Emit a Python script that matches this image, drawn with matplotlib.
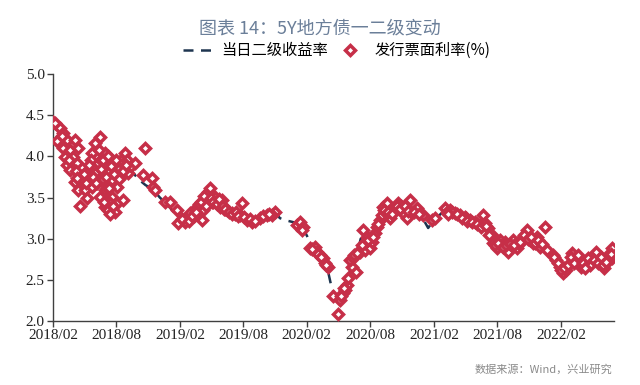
import matplotlib
matplotlib.use("Agg")
import matplotlib.pyplot as plt
import numpy as np
import pandas as pd

# Secondary-market yield (dashed line)
line_dates = [
    "2018-02-01", "2018-02-20", "2018-03-15", "2018-04-05", "2018-04-25", "2018-05-15",
    "2018-06-05", "2018-06-25", "2018-07-15", "2018-08-05", "2018-08-25", "2018-09-15",
    "2018-10-05", "2018-10-25", "2018-11-15", "2018-12-05", "2018-12-25", "2019-01-15",
    "2019-02-05", "2019-02-25", "2019-03-15", "2019-04-05", "2019-04-25", "2019-05-10",
    "2019-05-30", "2019-06-20", "2019-07-10", "2019-07-30", "2019-08-20", "2019-09-10",
    "2019-09-30", "2019-10-20", "2019-11-05", "2019-11-15", "2019-12-05", "2019-12-25",
    "2020-01-15", "2020-02-03", "2020-02-20", "2020-03-10", "2020-03-30", "2020-04-10",
    "2020-04-25", "2020-05-10", "2020-05-25", "2020-06-10", "2020-06-25", "2020-07-05",
    "2020-07-20", "2020-08-05", "2020-08-20", "2020-09-05", "2020-09-20", "2020-10-10",
    "2020-10-30", "2020-11-20", "2020-12-10", "2020-12-30", "2021-01-15", "2021-01-30",
    "2021-02-20", "2021-03-10", "2021-03-30", "2021-04-20", "2021-05-10", "2021-05-30",
    "2021-06-20", "2021-07-10", "2021-07-30", "2021-08-20", "2021-09-10", "2021-09-30",
    "2021-10-20", "2021-11-10", "2021-11-30", "2021-12-15", "2021-12-30", "2022-01-15",
    "2022-01-30", "2022-02-15", "2022-03-05", "2022-03-25", "2022-04-15", "2022-05-05",
    "2022-05-25", "2022-06-15", "2022-06-30",
]
line_values = [
    4.40, 4.28, 4.05, 3.75, 3.75, 3.85,
    3.90, 3.88, 3.80, 3.85, 3.88, 3.82,
    3.72, 3.65, 3.60, 3.50, 3.42, 3.32,
    3.25, 3.28, 3.38, 3.48, 3.62, 3.52,
    3.45, 3.37, 3.32, 3.30, 3.25, 3.25,
    3.28, 3.30, 3.32, 3.25, 3.22, 3.20,
    3.18, 3.02, 2.90, 2.80, 2.66, 2.45,
    2.25, 2.28, 2.45, 2.70, 2.82, 3.00,
    2.95, 3.00, 3.15, 3.30, 3.38, 3.35,
    3.38, 3.42, 3.35, 3.25, 3.13, 3.22,
    3.30, 3.35, 3.30, 3.27, 3.22, 3.18,
    3.15, 3.05, 2.92, 2.93, 2.92, 2.95,
    3.05, 3.00, 2.98, 2.95, 2.85, 2.72,
    2.62, 2.65, 2.75, 2.72, 2.70, 2.75,
    2.72, 2.78, 2.80,
]

# Primary issuance coupon rates (diamond markers)
issue_dates = [
    "2018-02-01", "2018-02-05", "2018-02-21", "2018-03-02", "2018-03-13", "2018-04-05",
    "2018-03-02", "2018-03-22", "2018-04-14", "2018-03-07", "2018-03-30", "2018-03-13",
    "2018-04-11", "2018-03-22", "2018-04-05", "2018-04-14", "2018-05-04", "2018-04-20",
    "2018-05-10", "2018-06-16", "2018-06-02", "2018-05-24", "2018-06-30", "2018-07-21",
    "2018-06-10", "2018-05-13", "2018-06-02", "2018-07-09", "2018-08-07", "2018-08-27",
    "2018-08-18", "2018-09-05", "2018-06-22", "2018-07-21", "2018-05-24", "2018-06-30",
    "2018-08-04", "2018-06-16", "2018-07-21", "2018-06-30", "2018-07-09", "2018-08-04",
    "2018-07-29", "2018-08-21", "2018-07-15", "2018-06-20", "2018-07-01", "2018-07-28",
    "2018-08-12", "2018-06-08", "2018-05-18", "2018-07-05", "2018-08-15", "2018-09-12",
    "2018-10-23", "2018-09-25", "2018-09-02", "2018-10-18", "2018-11-13", "2018-11-15",
    "2018-11-21", "2018-12-20", "2019-01-23", "2019-01-26",
    "2019-01-03", "2019-02-15", "2019-02-21", "2019-03-02", "2019-03-22", "2019-04-05",
    "2019-04-08", "2019-04-20", "2019-04-22", "2019-04-28", "2019-05-13", "2019-06-02",
    "2019-05-27", "2019-06-16", "2019-06-30", "2019-07-29", "2019-07-23", "2019-08-13",
    "2019-08-27", "2019-09-19", "2019-10-09", "2019-11-01", "2019-10-23", "2019-05-05",
    "2019-05-20", "2019-06-08", "2019-07-08", "2019-03-12", "2019-02-08",
    "2020-01-03", "2020-01-12", "2020-01-20", "2020-01-18",
    "2020-02-10", "2020-02-24", "2020-03-01", "2020-03-09", "2020-03-18", "2020-03-24",
    "2020-04-01", "2020-04-16", "2020-04-30", "2020-05-06", "2020-05-14", "2020-05-26",
    "2020-05-29", "2020-06-09", "2020-06-04", "2020-06-12", "2020-07-02", "2020-07-17",
    "2020-07-11", "2020-07-22", "2020-07-31", "2020-08-06", "2020-08-14", "2020-08-20",
    "2020-08-29", "2020-09-04", "2020-09-06", "2020-09-18", "2020-09-27", "2020-10-11",
    "2020-10-20", "2020-11-03", "2020-11-14", "2020-11-23", "2020-12-13", "2020-12-30",
    "2021-01-25", "2021-02-03", "2020-09-12", "2020-10-28", "2020-05-20", "2020-06-20",
    "2021-03-04", "2021-03-18", "2021-04-01", "2021-04-16", "2021-04-30", "2021-05-14",
    "2021-05-29", "2021-06-12", "2021-06-21", "2021-06-27", "2021-07-05", "2021-07-17",
    "2021-07-20", "2021-07-31", "2021-08-09", "2021-08-23", "2021-09-01", "2021-09-15",
    "2021-09-27", "2021-10-11", "2021-10-25", "2021-11-03", "2021-11-23", "2021-12-16",
    "2021-12-02", "2021-12-22", "2022-01-08", "2022-01-19", "2022-01-28", "2022-02-06",
    "2022-02-17", "2022-03-06", "2022-03-18", "2022-04-01", "2022-04-16", "2022-05-03",
    "2022-05-14", "2022-05-23", "2022-06-06", "2022-06-15", "2022-06-27", "2022-06-29",
    "2021-03-25", "2021-05-05", "2021-08-15", "2021-10-03", "2021-11-12", "2022-03-28",
    "2022-04-25", "2022-06-20",
]
issue_values = [
    4.42, 4.40, 4.34, 4.28, 4.20, 4.20,
    4.10, 4.08, 4.10, 3.99, 3.99, 3.89,
    3.92, 3.83, 3.69, 3.59, 3.59, 3.40,
    3.49, 4.23, 4.16, 4.04, 4.04, 3.96,
    3.92, 3.83, 3.80, 3.83, 3.87, 4.04,
    3.92, 3.80, 3.71, 3.71, 3.63, 3.59,
    3.63, 3.51, 3.51, 3.39, 3.35, 3.43,
    3.33, 3.47, 3.43, 3.95, 3.88, 3.92,
    3.75, 3.68, 3.74, 3.62, 3.96, 3.88,
    4.10, 3.92, 3.96, 3.77, 3.74, 3.63,
    3.59, 3.44, 3.35, 3.19,
    3.45, 3.20, 3.26, 3.31, 3.38, 3.23,
    3.35, 3.47, 3.57, 3.61, 3.51, 3.47,
    3.38, 3.35, 3.31, 3.43, 3.29, 3.23,
    3.20, 3.25, 3.29, 3.32, 3.29, 3.45,
    3.42, 3.36, 3.30, 3.28, 3.24,
    3.17, 3.20, 3.14, 3.10,
    2.89, 2.90, 2.84, 2.80, 2.76, 2.70,
    2.66, 2.31, 2.09, 2.25, 2.34, 2.44,
    2.52, 2.66, 2.74, 2.76, 2.84, 2.86,
    3.10, 3.02, 2.89, 2.96, 3.07, 3.14,
    3.23, 3.29, 3.38, 3.43, 3.25, 3.37,
    3.43, 3.31, 3.25, 3.47, 3.37, 3.29,
    3.23, 3.25, 3.33, 3.40, 2.38, 2.60,
    3.37, 3.35, 3.31, 3.29, 3.26, 3.23,
    3.20, 3.17, 3.29, 3.19, 3.13, 3.05,
    2.95, 2.89, 2.98, 2.96, 2.84, 2.98,
    2.89, 3.01, 3.11, 2.98, 3.02, 3.14,
    2.90, 2.86, 2.80, 2.74, 2.66, 2.58,
    2.62, 2.83, 2.74, 2.66, 2.72, 2.78,
    2.84, 2.72, 2.64, 2.80, 2.89, 2.76,
    3.33, 3.25, 2.92, 2.94, 2.95, 2.70,
    2.68, 2.74,
]

# Further issues in the crowded stretches
issue_dates_more = [
    "2018-02-12", "2018-02-26", "2018-03-18", "2018-04-08", "2018-04-25", "2018-05-01",
    "2018-05-07", "2018-05-20", "2018-05-28", "2018-06-05", "2018-06-12", "2018-06-18",
    "2018-06-25", "2018-07-02", "2018-07-08", "2018-07-12", "2018-07-18", "2018-07-25",
    "2018-08-01", "2018-08-10", "2018-08-20", "2018-08-30", "2018-06-27", "2018-07-16",
    "2018-07-24", "2018-04-12", "2018-05-15",
    "2019-02-28", "2019-03-08", "2019-03-18", "2019-03-28", "2019-04-02", "2019-04-12",
    "2019-04-16", "2019-05-02", "2019-05-08", "2019-05-18", "2019-05-24", "2019-06-05",
    "2019-06-10", "2019-06-22", "2019-07-02", "2019-07-12", "2019-07-18", "2019-08-05",
    "2019-08-20", "2019-09-05", "2019-09-28", "2019-10-16",
    "2020-02-15", "2020-03-05", "2020-03-14", "2020-03-28", "2020-05-10", "2020-05-18",
    "2020-06-16", "2020-06-25", "2020-07-08", "2020-07-26", "2020-08-10", "2020-08-25",
    "2020-09-10", "2020-09-22", "2020-10-04", "2020-10-16", "2020-10-25", "2020-11-08",
    "2020-11-18", "2020-12-05", "2020-12-20",
    "2021-03-10", "2021-03-14", "2021-04-08", "2021-04-22", "2021-05-08", "2021-05-20",
    "2021-06-05", "2021-06-16", "2021-07-01", "2021-07-10", "2021-07-25", "2021-08-03",
    "2021-08-18", "2021-08-28", "2021-09-08", "2021-09-20", "2021-10-06", "2021-10-18",
    "2021-10-30", "2021-11-08", "2021-11-17", "2021-11-28", "2021-12-08",
    "2022-01-12", "2022-01-24", "2022-02-01", "2022-02-10", "2022-02-22", "2022-03-01",
    "2022-03-12", "2022-03-22", "2022-04-06", "2022-04-10", "2022-04-20", "2022-05-08",
    "2022-05-18", "2022-05-28", "2022-06-01", "2022-06-10", "2022-06-24",
]
issue_values_more = [
    4.18, 4.25, 3.95, 3.82, 3.70, 3.78,
    3.68, 3.95, 3.75, 3.68, 4.08, 3.85,
    3.95, 3.75, 4.00, 3.62, 3.88, 3.78,
    3.95, 3.72, 3.82, 3.90, 3.45, 3.30,
    3.40, 3.74, 3.90,
    3.22, 3.28, 3.32, 3.42, 3.45, 3.52,
    3.40, 3.50, 3.44, 3.42, 3.48, 3.40,
    3.36, 3.32, 3.30, 3.33, 3.27, 3.26,
    3.24, 3.22, 3.28, 3.30,
    2.88, 2.82, 2.78, 2.68, 2.30, 2.40,
    2.80, 2.83, 2.92, 2.98, 3.02, 3.18,
    3.35, 3.32, 3.30, 3.40, 3.36, 3.40,
    3.34, 3.32, 3.30,
    3.33, 3.30, 3.30, 3.25, 3.22, 3.20,
    3.18, 3.14, 3.15, 3.05, 2.92, 2.95,
    2.90, 2.92, 2.94, 2.92, 2.96, 3.05,
    3.00, 3.02, 2.95, 2.98, 2.93,
    2.78, 2.70, 2.62, 2.64, 2.68, 2.78,
    2.70, 2.80, 2.70, 2.64, 2.76, 2.74,
    2.70, 2.78, 2.68, 2.72, 2.82,
]

y_ticks = [2.0, 2.5, 3.0, 3.5, 4.0, 4.5, 5.0]
x_tick_labels = ["2018/02", "2018/08", "2019/02", "2019/08", "2020/02",
                 "2020/08", "2021/02", "2021/08", "2022/02"]

title = "图表 14：5Y地方债一二级变动"
legend_line = "当日二级收益率"
legend_marker = "发行票面利率(%)"
source = "数据来源：Wind，兴业研究"

RED = "#c62f48"
NAVY = "#1e3550"

plt.rcParams['font.family'] = ['Noto Sans CJK SC', 'DejaVu Sans']

fig = plt.figure(figsize=(6.4, 3.85), dpi=100)
ax = fig.add_axes([0.083, 0.166, 0.876, 0.642])

ld = pd.to_datetime(line_dates)
idt = pd.to_datetime(issue_dates + issue_dates_more)
ivals = issue_values + issue_values_more

ln, = ax.plot(ld, line_values, color=NAVY, lw=1.8, ls=(0, (4, 3)), zorder=2)
mk, = ax.plot(idt, ivals, ls='none', marker='D', ms=4.8, mfc='white',
              mec=RED, mew=2.5, zorder=3)

ax.set_ylim(2.0, 5.0)
ax.set_yticks(y_ticks)
ax.set_yticklabels([f"{v:.1f}" for v in y_ticks])
ax.set_xlim(pd.Timestamp("2018-02-01"), pd.Timestamp("2022-07-03"))
xt = pd.to_datetime([s.replace("/", "-") + "-01" for s in x_tick_labels])
ax.set_xticks(xt)
ax.set_xticklabels(x_tick_labels)

for s in ["top", "right"]:
    ax.spines[s].set_visible(False)
for s in ["left", "bottom"]:
    ax.spines[s].set_color("#404040")
    ax.spines[s].set_linewidth(1.0)
ax.tick_params(axis='both', direction='out', length=4, width=1.0, color="#404040",
               labelsize=11, labelcolor="#222222", pad=2)
for lab in ax.get_xticklabels() + ax.get_yticklabels():
    lab.set_fontfamily(["Liberation Serif", "DejaVu Serif"])

fig.text(0.5, 0.927, title, ha='center', va='center', fontsize=13,
         color="#6b7f99", fontweight='medium')

fig.legend([ln, mk], [legend_line, legend_marker], loc='center',
           bbox_to_anchor=(0.526, 0.868), ncol=2, frameon=False, fontsize=11,
           handlelength=1.8, columnspacing=0.5, handletextpad=0.7)

fig.text(0.957, 0.04, source, ha='right', va='center', fontsize=8, color="#8a8a8a")

fig.savefig("out.png", dpi=100)
